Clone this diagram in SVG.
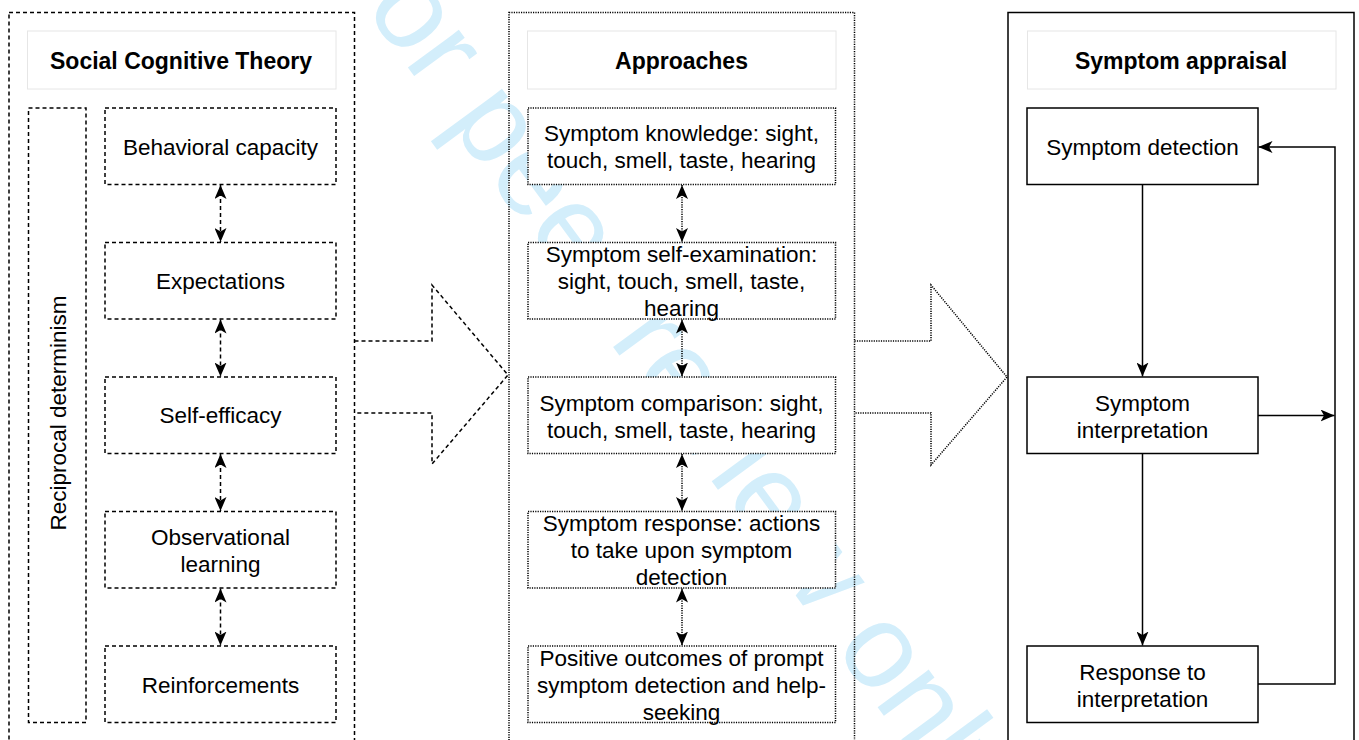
<svg xmlns="http://www.w3.org/2000/svg" width="1359" height="740" viewBox="0 0 1359 740">
<defs>
<style>
text{font-family:"Liberation Sans",Arial,sans-serif;font-size:22.5px;fill:#000;text-anchor:middle}
.t{font-weight:bold;font-size:23px}
.wm{font-size:120px;fill:#d3eefb;text-anchor:start}
.title{fill:#fff;stroke:#e6e6e6;stroke-width:1}
.dash{fill:#fff;stroke:#000;stroke-width:1.5;stroke-dasharray:4 3}
.dot{fill:#fff;stroke:#000;stroke-width:1.5;stroke-dasharray:1.2 1.2}
.solid{fill:#fff;stroke:#000;stroke-width:1.5}
.cont{fill:none}
.ld{fill:none;stroke:#000;stroke-width:1.5;stroke-dasharray:4 3}
.lo{fill:none;stroke:#000;stroke-width:1.5;stroke-dasharray:1.2 1.2}
.ls{fill:none;stroke:#000;stroke-width:1.5}
</style>
<marker id="ah" viewBox="0 0 14 12" refX="14" refY="6" markerWidth="14" markerHeight="12" markerUnits="userSpaceOnUse" orient="auto-start-reverse">
<path d="M0,0 L14,6 L0,12 L3.5,6 Z" fill="#000"/>
</marker>
</defs>
<rect width="1359" height="740" fill="#fff"/>
<text class="wm" transform="translate(320,-52) rotate(53.7)">For peer review only</text>

<g id="col-sct">
<rect class="dash cont" x="9" y="12.5" width="345.5" height="760"/>
</g>
<g id="col-approaches">
<rect class="dot cont" x="509" y="12.5" width="345.5" height="760"/>
</g>
<g id="col-appraisal">
<rect class="solid cont" x="1008" y="12.5" width="346" height="760"/>
</g>

<g id="title-sct"><rect class="title" x="27.5" y="31" width="308.5" height="58"/><text class="t" x="181" y="69">Social Cognitive Theory</text></g>
<g id="title-approaches"><rect class="title" x="527.5" y="31" width="308.5" height="58"/><text class="t" x="681.5" y="69">Approaches</text></g>
<g id="title-appraisal"><rect class="title" x="1027.5" y="31" width="308.5" height="58"/><text class="t" x="1181" y="69">Symptom appraisal</text></g>

<g id="reciprocal"><rect class="dash" x="28.5" y="108" width="57.5" height="614.5"/><text transform="translate(66,413) rotate(-90)">Reciprocal determinism</text></g>

<g id="behavioral"><rect class="dash" x="105" y="108" width="231" height="76.5"/><text x="220.5" y="155">Behavioral capacity</text></g>
<g id="expectations"><rect class="dash" x="105" y="242.5" width="231" height="76.5"/><text x="220.5" y="289">Expectations</text></g>
<g id="selfefficacy"><rect class="dash" x="105" y="377" width="231" height="76.5"/><text x="220.5" y="423">Self-efficacy</text></g>
<g id="observational"><rect class="dash" x="105" y="511.5" width="231" height="76.5"/><text x="220.5" y="545">Observational</text><text x="220.5" y="572">learning</text></g>
<g id="reinforcements"><rect class="dash" x="105" y="646" width="231" height="76.5"/><text x="220.5" y="693">Reinforcements</text></g>

<g id="knowledge"><rect class="dot" x="528" y="108" width="307.5" height="76.5"/><text x="681.5" y="141">Symptom knowledge: sight,</text><text x="681.5" y="168">touch, smell, taste, hearing</text></g>
<g id="selfexam"><rect class="dot" x="528" y="242.5" width="307.5" height="76.5"/><text x="681.5" y="262">Symptom self-examination:</text><text x="681.5" y="289">sight, touch, smell, taste,</text><text x="681.5" y="316">hearing</text></g>
<g id="comparison"><rect class="dot" x="528" y="377" width="307.5" height="76.5"/><text x="681.5" y="411">Symptom comparison: sight,</text><text x="681.5" y="438">touch, smell, taste, hearing</text></g>
<g id="response"><rect class="dot" x="528" y="511.5" width="307.5" height="76.5"/><text x="681.5" y="531">Symptom response: actions</text><text x="681.5" y="558">to take upon symptom</text><text x="681.5" y="585">detection</text></g>
<g id="positive"><rect class="dot" x="528" y="646" width="307.5" height="76.5"/><text x="681.5" y="666">Positive outcomes of prompt</text><text x="681.5" y="693">symptom detection and help-</text><text x="681.5" y="720">seeking</text></g>

<g id="detection"><rect class="solid" x="1027" y="108" width="231" height="76.5"/><text x="1142.5" y="155">Symptom detection</text></g>
<g id="interpretation"><rect class="solid" x="1027" y="377" width="231" height="76.5"/><text x="1142.5" y="411">Symptom</text><text x="1142.5" y="438">interpretation</text></g>
<g id="responseto"><rect class="solid" x="1027" y="646" width="231" height="76.5"/><text x="1142.5" y="680">Response to</text><text x="1142.5" y="707">interpretation</text></g>

<g id="connectors">
<path class="ld" d="M354.5,341 H432 V285 L508,375 L432,464 V413 H354.5"/>
<path class="lo" d="M854.5,341 H931 V285 L1007,377 L931,465 V413 H854.5"/>
<line class="ld" x1="220.5" y1="185" x2="220.5" y2="242" marker-start="url(#ah)" marker-end="url(#ah)"/>
<line class="ld" x1="220.5" y1="319.5" x2="220.5" y2="376.5" marker-start="url(#ah)" marker-end="url(#ah)"/>
<line class="ld" x1="220.5" y1="454" x2="220.5" y2="511" marker-start="url(#ah)" marker-end="url(#ah)"/>
<line class="ld" x1="220.5" y1="588.5" x2="220.5" y2="645.5" marker-start="url(#ah)" marker-end="url(#ah)"/>
<line class="lo" x1="682" y1="185" x2="682" y2="242" marker-start="url(#ah)" marker-end="url(#ah)"/>
<line class="lo" x1="682" y1="319.5" x2="682" y2="376.5" marker-start="url(#ah)" marker-end="url(#ah)"/>
<line class="lo" x1="682" y1="454" x2="682" y2="511" marker-start="url(#ah)" marker-end="url(#ah)"/>
<line class="lo" x1="682" y1="588.5" x2="682" y2="645.5" marker-start="url(#ah)" marker-end="url(#ah)"/>
<line class="ls" x1="1142.5" y1="185" x2="1142.5" y2="376.5" marker-end="url(#ah)"/>
<line class="ls" x1="1142.5" y1="454" x2="1142.5" y2="645.5" marker-end="url(#ah)"/>
<line class="ls" x1="1258" y1="415.5" x2="1334.5" y2="415.5" marker-end="url(#ah)"/>
<path class="ls" d="M1258,684 H1335 V147 H1258.5" marker-end="url(#ah)"/>
</g>
</svg>
